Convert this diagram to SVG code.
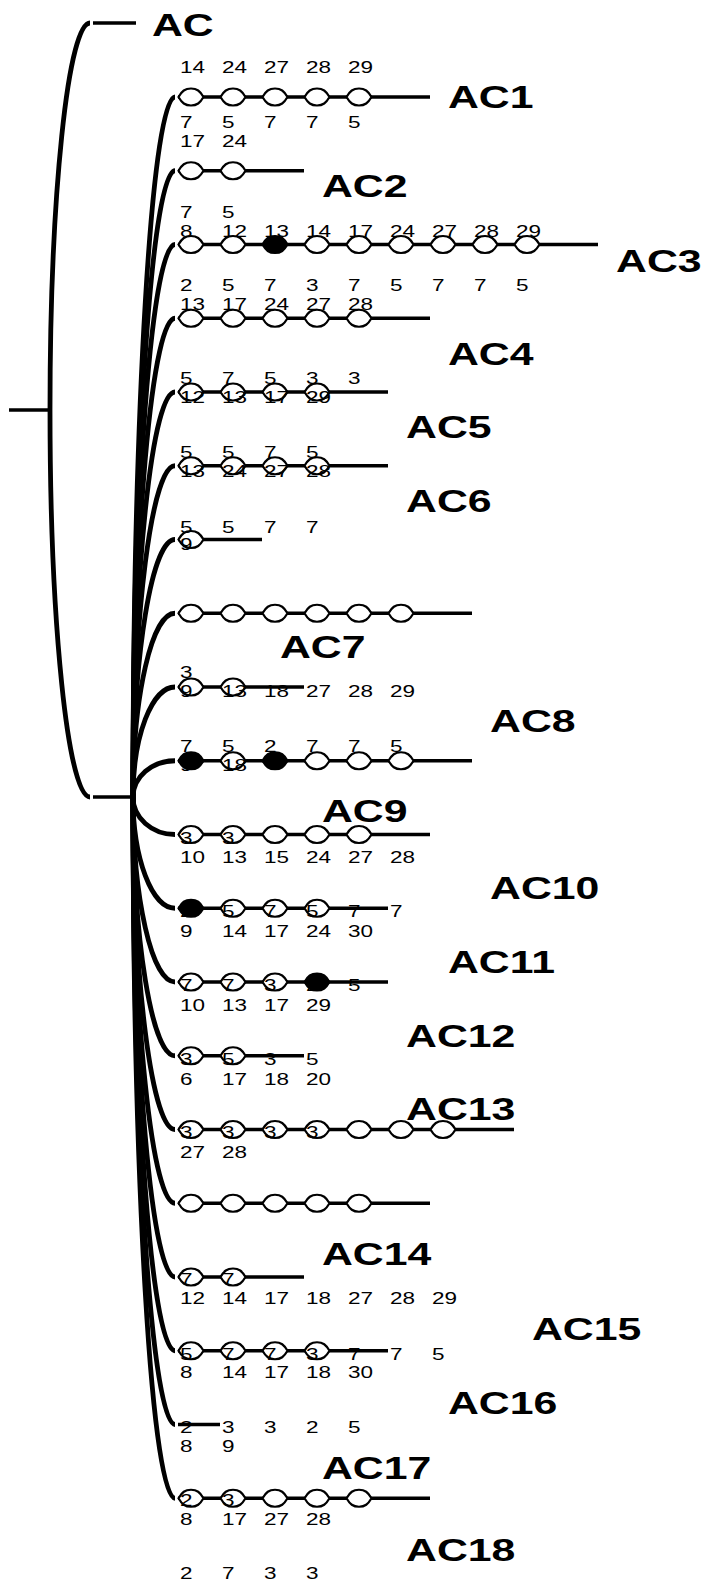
<svg xmlns="http://www.w3.org/2000/svg" xmlns:xlink="http://www.w3.org/1999/xlink" width="710" height="1585" viewBox="0 0 710 1585">
<style>
.c{fill:none;stroke:#000;stroke-width:4.8}
.h{fill:none;stroke:#000;stroke-width:3.5}
.l{fill:none;stroke:#000;stroke-width:3.3}
.n{fill:#fff;stroke:#000;stroke-width:2.2}
.f{fill:#000;stroke:#000;stroke-width:2.2}
.d{font-family:"Liberation Sans",Arial,sans-serif;font-size:16.3px;fill:#000}
.b{font-family:"Liberation Sans",Arial,sans-serif;font-size:31px;font-weight:bold;fill:#000}
</style>
<defs>
<path id="nd" d="M-12.5,0 C-9,-6 -6,-8.5 0,-8.5 C6,-8.5 9,-6 12.5,0 C9,6 6,8.5 0,8.5 C-6,8.5 -9,6 -12.5,0Z"/>
</defs>
<rect width="710" height="1585" fill="#fff"/>
<g id="connectors">
<path class="h" d="M9,410 H50"/>
<path class="c" d="M50,410 A40,387 0 0 1 90,23"/>
<path class="c" d="M50,410 A40,387 0 0 0 90,797"/>
<path class="h" d="M93,23 H136"/>
<path class="h" d="M93,797 H134"/>
<path class="c" d="M133,797 A42,700 0 0 1 175,97"/>
<path class="c" d="M133,797 A42,626.25 0 0 1 175,170.75"/>
<path class="c" d="M133,797 A42,552.5 0 0 1 175,244.5"/>
<path class="c" d="M133,797 A42,478.75 0 0 1 175,318.25"/>
<path class="c" d="M133,797 A42,405 0 0 1 175,392"/>
<path class="c" d="M133,797 A42,331.25 0 0 1 175,465.75"/>
<path class="c" d="M133,797 A42,257.5 0 0 1 175,539.5"/>
<path class="c" d="M133,797 A42,183.75 0 0 1 175,613.25"/>
<path class="c" d="M133,797 A42,110 0 0 1 175,687"/>
<path class="c" d="M133,797 A42,36.25 0 0 1 175,760.75"/>
<path class="c" d="M133,797 A42,37.5 0 0 0 175,834.5"/>
<path class="c" d="M133,797 A42,111.25 0 0 0 175,908.25"/>
<path class="c" d="M133,797 A42,185 0 0 0 175,982"/>
<path class="c" d="M133,797 A42,258.75 0 0 0 175,1055.75"/>
<path class="c" d="M133,797 A42,332.5 0 0 0 175,1129.5"/>
<path class="c" d="M133,797 A42,406.25 0 0 0 175,1203.25"/>
<path class="c" d="M133,797 A42,480 0 0 0 175,1277"/>
<path class="c" d="M133,797 A42,553.75 0 0 0 175,1350.75"/>
<path class="c" d="M133,797 A42,627.5 0 0 0 175,1424.5"/>
<path class="c" d="M133,797 A42,701.25 0 0 0 175,1498.25"/>
</g>
<g id="row1" transform="translate(0,97)"><path class="l" d="M178,0H430"/><use href="#nd" class="n" x="191"/><use href="#nd" class="n" x="233"/><use href="#nd" class="n" x="275"/><use href="#nd" class="n" x="317"/><use href="#nd" class="n" x="359"/></g>
<g id="row2" transform="translate(0,170.75)"><path class="l" d="M178,0H304"/><use href="#nd" class="n" x="191"/><use href="#nd" class="n" x="233"/></g>
<g id="row3" transform="translate(0,244.5)"><path class="l" d="M178,0H598"/><use href="#nd" class="n" x="191"/><use href="#nd" class="n" x="233"/><use href="#nd" class="f" x="275"/><use href="#nd" class="n" x="317"/><use href="#nd" class="n" x="359"/><use href="#nd" class="n" x="401"/><use href="#nd" class="n" x="443"/><use href="#nd" class="n" x="485"/><use href="#nd" class="n" x="527"/></g>
<g id="row4" transform="translate(0,318.25)"><path class="l" d="M178,0H430"/><use href="#nd" class="n" x="191"/><use href="#nd" class="n" x="233"/><use href="#nd" class="n" x="275"/><use href="#nd" class="n" x="317"/><use href="#nd" class="n" x="359"/></g>
<g id="row5" transform="translate(0,392)"><path class="l" d="M178,0H388"/><use href="#nd" class="n" x="191"/><use href="#nd" class="n" x="233"/><use href="#nd" class="n" x="275"/><use href="#nd" class="n" x="317"/></g>
<g id="row6" transform="translate(0,465.75)"><path class="l" d="M178,0H388"/><use href="#nd" class="n" x="191"/><use href="#nd" class="n" x="233"/><use href="#nd" class="n" x="275"/><use href="#nd" class="n" x="317"/></g>
<g id="row7" transform="translate(0,539.5)"><path class="l" d="M178,0H262"/><use href="#nd" class="n" x="191"/></g>
<g id="row8" transform="translate(0,613.25)"><path class="l" d="M178,0H472"/><use href="#nd" class="n" x="191"/><use href="#nd" class="n" x="233"/><use href="#nd" class="n" x="275"/><use href="#nd" class="n" x="317"/><use href="#nd" class="n" x="359"/><use href="#nd" class="n" x="401"/></g>
<g id="row9" transform="translate(0,687)"><path class="l" d="M178,0H304"/><use href="#nd" class="n" x="191"/><use href="#nd" class="n" x="233"/></g>
<g id="row10" transform="translate(0,760.75)"><path class="l" d="M178,0H472"/><use href="#nd" class="f" x="191"/><use href="#nd" class="n" x="233"/><use href="#nd" class="f" x="275"/><use href="#nd" class="n" x="317"/><use href="#nd" class="n" x="359"/><use href="#nd" class="n" x="401"/></g>
<g id="row11" transform="translate(0,834.5)"><path class="l" d="M178,0H430"/><use href="#nd" class="n" x="191"/><use href="#nd" class="n" x="233"/><use href="#nd" class="n" x="275"/><use href="#nd" class="n" x="317"/><use href="#nd" class="n" x="359"/></g>
<g id="row12" transform="translate(0,908.25)"><path class="l" d="M178,0H388"/><use href="#nd" class="f" x="191"/><use href="#nd" class="n" x="233"/><use href="#nd" class="n" x="275"/><use href="#nd" class="n" x="317"/></g>
<g id="row13" transform="translate(0,982)"><path class="l" d="M178,0H388"/><use href="#nd" class="n" x="191"/><use href="#nd" class="n" x="233"/><use href="#nd" class="n" x="275"/><use href="#nd" class="f" x="317"/></g>
<g id="row14" transform="translate(0,1055.75)"><path class="l" d="M178,0H304"/><use href="#nd" class="n" x="191"/><use href="#nd" class="n" x="233"/></g>
<g id="row15" transform="translate(0,1129.5)"><path class="l" d="M178,0H514"/><use href="#nd" class="n" x="191"/><use href="#nd" class="n" x="233"/><use href="#nd" class="n" x="275"/><use href="#nd" class="n" x="317"/><use href="#nd" class="n" x="359"/><use href="#nd" class="n" x="401"/><use href="#nd" class="n" x="443"/></g>
<g id="row16" transform="translate(0,1203.25)"><path class="l" d="M178,0H430"/><use href="#nd" class="n" x="191"/><use href="#nd" class="n" x="233"/><use href="#nd" class="n" x="275"/><use href="#nd" class="n" x="317"/><use href="#nd" class="n" x="359"/></g>
<g id="row17" transform="translate(0,1277)"><path class="l" d="M178,0H304"/><use href="#nd" class="n" x="191"/><use href="#nd" class="n" x="233"/></g>
<g id="row18" transform="translate(0,1350.75)"><path class="l" d="M178,0H388"/><use href="#nd" class="n" x="191"/><use href="#nd" class="n" x="233"/><use href="#nd" class="n" x="275"/><use href="#nd" class="n" x="317"/></g>
<g id="row19" transform="translate(0,1424.5)"><path class="l" d="M178,0H220"/></g>
<g id="row20" transform="translate(0,1498.25)"><path class="l" d="M178,0H430"/><use href="#nd" class="n" x="191"/><use href="#nd" class="n" x="233"/><use href="#nd" class="n" x="275"/><use href="#nd" class="n" x="317"/><use href="#nd" class="n" x="359"/></g>
<g id="labels" transform="scale(1.38,1)">
<text class="b" x="110.1" y="36">AC</text>
<text class="b" x="324.6" y="108">AC1</text>
<text class="b" x="233.3" y="197">AC2</text>
<text class="b" x="446.4" y="272">AC3</text>
<text class="b" x="324.6" y="365">AC4</text>
<text class="b" x="294.2" y="438">AC5</text>
<text class="b" x="294.2" y="512">AC6</text>
<text class="b" x="202.9" y="658">AC7</text>
<text class="b" x="355.1" y="732">AC8</text>
<text class="b" x="233.3" y="822">AC9</text>
<text class="b" x="355.1" y="899">AC10</text>
<text class="b" x="324.6" y="973">AC11</text>
<text class="b" x="294.2" y="1047">AC12</text>
<text class="b" x="294.2" y="1120">AC13</text>
<text class="b" x="233.3" y="1265">AC14</text>
<text class="b" x="385.5" y="1340">AC15</text>
<text class="b" x="324.6" y="1414">AC16</text>
<text class="b" x="233.3" y="1479">AC17</text>
<text class="b" x="294.2" y="1561">AC18</text>
</g>
<g id="numbers" class="d" transform="scale(1.38,1)">
<text y="73"><tspan x="130.4">14</tspan><tspan x="160.9">24</tspan><tspan x="191.3">27</tspan><tspan x="221.7">28</tspan><tspan x="252.2">29</tspan></text>
<text y="128"><tspan x="130.4">7</tspan><tspan x="160.9">5</tspan><tspan x="191.3">7</tspan><tspan x="221.7">7</tspan><tspan x="252.2">5</tspan></text>
<text y="147"><tspan x="130.4">17</tspan><tspan x="160.9">24</tspan></text>
<text y="218"><tspan x="130.4">7</tspan><tspan x="160.9">5</tspan></text>
<text y="237"><tspan x="130.4">8</tspan><tspan x="160.9">12</tspan><tspan x="191.3">13</tspan><tspan x="221.7">14</tspan><tspan x="252.2">17</tspan><tspan x="282.6">24</tspan><tspan x="313.0">27</tspan><tspan x="343.5">28</tspan><tspan x="373.9">29</tspan></text>
<text y="291"><tspan x="130.4">2</tspan><tspan x="160.9">5</tspan><tspan x="191.3">7</tspan><tspan x="221.7">3</tspan><tspan x="252.2">7</tspan><tspan x="282.6">5</tspan><tspan x="313.0">7</tspan><tspan x="343.5">7</tspan><tspan x="373.9">5</tspan></text>
<text y="310"><tspan x="130.4">13</tspan><tspan x="160.9">17</tspan><tspan x="191.3">24</tspan><tspan x="221.7">27</tspan><tspan x="252.2">28</tspan></text>
<text y="384"><tspan x="130.4">5</tspan><tspan x="160.9">7</tspan><tspan x="191.3">5</tspan><tspan x="221.7">3</tspan><tspan x="252.2">3</tspan></text>
<text y="403"><tspan x="130.4">12</tspan><tspan x="160.9">13</tspan><tspan x="191.3">17</tspan><tspan x="221.7">29</tspan></text>
<text y="458"><tspan x="130.4">5</tspan><tspan x="160.9">5</tspan><tspan x="191.3">7</tspan><tspan x="221.7">5</tspan></text>
<text y="477"><tspan x="130.4">13</tspan><tspan x="160.9">24</tspan><tspan x="191.3">27</tspan><tspan x="221.7">28</tspan></text>
<text y="533"><tspan x="130.4">5</tspan><tspan x="160.9">5</tspan><tspan x="191.3">7</tspan><tspan x="221.7">7</tspan></text>
<text y="550"><tspan x="130.4">9</tspan></text>
<text y="678"><tspan x="130.4">3</tspan></text>
<text y="697"><tspan x="130.4">9</tspan><tspan x="160.9">13</tspan><tspan x="191.3">18</tspan><tspan x="221.7">27</tspan><tspan x="252.2">28</tspan><tspan x="282.6">29</tspan></text>
<text y="752"><tspan x="130.4">7</tspan><tspan x="160.9">5</tspan><tspan x="191.3">2</tspan><tspan x="221.7">7</tspan><tspan x="252.2">7</tspan><tspan x="282.6">5</tspan></text>
<text y="771"><tspan x="130.4">9</tspan><tspan x="160.9">18</tspan></text>
<text y="844"><tspan x="130.4">3</tspan><tspan x="160.9">3</tspan></text>
<text y="863"><tspan x="130.4">10</tspan><tspan x="160.9">13</tspan><tspan x="191.3">15</tspan><tspan x="221.7">24</tspan><tspan x="252.2">27</tspan><tspan x="282.6">28</tspan></text>
<text y="917"><tspan x="130.4">2</tspan><tspan x="160.9">5</tspan><tspan x="191.3">7</tspan><tspan x="221.7">5</tspan><tspan x="252.2">7</tspan><tspan x="282.6">7</tspan></text>
<text y="937"><tspan x="130.4">9</tspan><tspan x="160.9">14</tspan><tspan x="191.3">17</tspan><tspan x="221.7">24</tspan><tspan x="252.2">30</tspan></text>
<text y="991"><tspan x="130.4">7</tspan><tspan x="160.9">7</tspan><tspan x="191.3">3</tspan><tspan x="221.7">2</tspan><tspan x="252.2">5</tspan></text>
<text y="1011"><tspan x="130.4">10</tspan><tspan x="160.9">13</tspan><tspan x="191.3">17</tspan><tspan x="221.7">29</tspan></text>
<text y="1065"><tspan x="130.4">3</tspan><tspan x="160.9">5</tspan><tspan x="191.3">3</tspan><tspan x="221.7">5</tspan></text>
<text y="1085"><tspan x="130.4">6</tspan><tspan x="160.9">17</tspan><tspan x="191.3">18</tspan><tspan x="221.7">20</tspan></text>
<text y="1138"><tspan x="130.4">3</tspan><tspan x="160.9">3</tspan><tspan x="191.3">3</tspan><tspan x="221.7">3</tspan></text>
<text y="1158"><tspan x="130.4">27</tspan><tspan x="160.9">28</tspan></text>
<text y="1285"><tspan x="130.4">7</tspan><tspan x="160.9">7</tspan></text>
<text y="1304"><tspan x="130.4">12</tspan><tspan x="160.9">14</tspan><tspan x="191.3">17</tspan><tspan x="221.7">18</tspan><tspan x="252.2">27</tspan><tspan x="282.6">28</tspan><tspan x="313.0">29</tspan></text>
<text y="1360"><tspan x="130.4">5</tspan><tspan x="160.9">7</tspan><tspan x="191.3">7</tspan><tspan x="221.7">3</tspan><tspan x="252.2">7</tspan><tspan x="282.6">7</tspan><tspan x="313.0">5</tspan></text>
<text y="1378"><tspan x="130.4">8</tspan><tspan x="160.9">14</tspan><tspan x="191.3">17</tspan><tspan x="221.7">18</tspan><tspan x="252.2">30</tspan></text>
<text y="1433"><tspan x="130.4">2</tspan><tspan x="160.9">3</tspan><tspan x="191.3">3</tspan><tspan x="221.7">2</tspan><tspan x="252.2">5</tspan></text>
<text y="1452"><tspan x="130.4">8</tspan><tspan x="160.9">9</tspan></text>
<text y="1506"><tspan x="130.4">2</tspan><tspan x="160.9">3</tspan></text>
<text y="1525"><tspan x="130.4">8</tspan><tspan x="160.9">17</tspan><tspan x="191.3">27</tspan><tspan x="221.7">28</tspan></text>
<text y="1579"><tspan x="130.4">2</tspan><tspan x="160.9">7</tspan><tspan x="191.3">3</tspan><tspan x="221.7">3</tspan></text>
</g>
</svg>
